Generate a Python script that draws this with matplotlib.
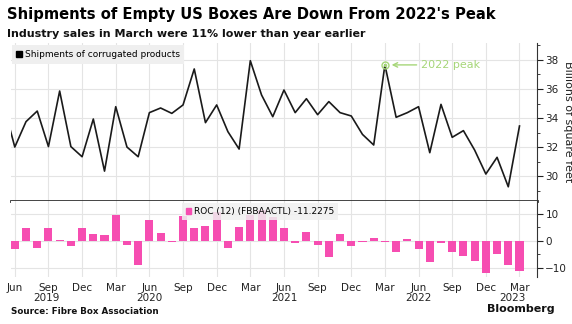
import matplotlib.pyplot as plt
from matplotlib.lines import Line2D
from matplotlib.patches import Patch
from matplotlib.ticker import MultipleLocator
from matplotlib.transforms import blended_transform_factory

# Monthly data, May 2019 .. Mar 2023 (line) and Jun 2019 .. Mar 2023 (bars)
shipments = [34.9,
             32.0, 33.75, 34.48, 32.03, 35.86, 32.03, 31.33,
             33.93, 30.34, 34.78, 32.0, 31.33, 34.37, 34.69, 34.32, 34.9, 37.38, 33.68, 34.9,
             33.06, 31.86, 37.95, 35.59, 34.09, 35.93, 34.37, 35.33, 34.23, 35.13, 34.37, 34.14,
             32.87, 32.14, 37.66, 34.05, 34.37, 34.78, 31.61, 34.94, 32.67, 33.13, 31.79, 30.14,
             31.29, 29.26, 33.45]
roc = [-3.2, 4.8, -2.8, 4.7, 0.1, -1.8, 4.8,
       2.3, 2.2, 9.3, -1.6, -8.9, 7.8, 2.9, -0.3, 9.2, 4.5, 5.3, 10.5,
       -2.5, 5.1, 9.5, 11.2, 8.8, 4.6, -0.8, 3.1, -1.6, -5.9, 2.3, -1.8,
       -0.6, 1.1, -0.4, -4.3, 0.7, -3.1, -7.8, -0.7, -4.3, -5.5, -7.3, -11.8,
       -4.9, -8.8, -11.2275]
tick_names = ["Jun", "Sep", "Dec", "Mar"]
years = ["2019", "2020", "2021", "2022", "2023"]

# index 0 = Jun 2019
line_x = list(range(-1, len(shipments) - 1))
bar_x = list(range(len(roc)))

PINK = "#f64db1"
GREEN = "#a6d678"
GRID = "#e4e4e4"
TXT = "#222222"

plt.rcParams["font.family"] = ["DejaVu Sans"]

fig = plt.figure(figsize=(5.72, 3.24), dpi=100)
ax1 = fig.add_axes([0.0192, 0.3796, 0.9196, 0.4877])
ax2 = fig.add_axes([0.0192, 0.145, 0.9196, 0.2346])

xlim = (-0.34, 46.56)
qticks = list(range(0, len(roc), 3))

# upper panel
ax1.plot(line_x, shipments, color="#1a1a1a", lw=1.2, zorder=3)
ax1.set_xlim(*xlim)
ax1.set_ylim(28.28, 39.17)
ax1.yaxis.tick_right()
ax1.yaxis.set_label_position("right")
ax1.set_yticks([30, 32, 34, 36, 38])
ax1.yaxis.set_minor_locator(MultipleLocator(1))
ax1.set_ylabel("Billions of square feet", rotation=-90, labelpad=3, fontsize=8, color=TXT,
               va="bottom")
ax1.set_xticks(qticks)
ax1.tick_params(axis="x", length=0, labelbottom=False)
ax1.tick_params(axis="y", which="major", length=4, labelsize=7.5, colors=TXT, pad=2)
ax1.tick_params(axis="y", which="minor", length=2, color=TXT)
ax1.grid(True, color=GRID, lw=0.8)
for s in ["left", "top"]:
    ax1.spines[s].set_visible(False)
ax1.spines["right"].set_color("#333333")
ax1.spines["right"].set_linewidth(0.8)
ax1.spines["bottom"].set_color("#333333")
ax1.spines["bottom"].set_linewidth(2)

peak_i = 33
ax1.plot(peak_i, shipments[peak_i + 1], "o", mfc="none", mec=GREEN, ms=5, mew=1, zorder=4)
ax1.plot(peak_i, shipments[peak_i + 1], "o", color=GREEN, ms=1.5, zorder=4)
ax1.annotate("2022 peak", xy=(peak_i + 0.6, shipments[peak_i + 1]),
             xytext=(36.2, shipments[peak_i + 1]), color=GREEN, fontsize=8,
             va="center", ha="left",
             arrowprops=dict(arrowstyle="->", color=GREEN, lw=1, shrinkA=1, shrinkB=0))

leg1 = ax1.legend(handles=[Line2D([], [], marker="s", ls="none", color="black", ms=4)],
                  labels=["Shipments of corrugated products"], loc="upper left",
                  bbox_to_anchor=(0, 0.99), fontsize=6.5, frameon=True, fancybox=False,
                  handlelength=0.6, handletextpad=0.3, borderpad=0.5, borderaxespad=0.1)
leg1.get_frame().set_facecolor("#efefef")
leg1.get_frame().set_edgecolor("none")
leg1.get_frame().set_alpha(1)

# lower panel
ax2.bar(bar_x, roc, width=0.72, color=PINK, zorder=3)
ax2.set_xlim(*xlim)
ax2.set_ylim(-13.35, 14.6)
ax2.yaxis.tick_right()
ax2.set_yticks([-10, 0, 10])
ax2.yaxis.set_minor_locator(MultipleLocator(5))
ax2.tick_params(axis="y", which="major", length=4, labelsize=7.5, colors=TXT, pad=2)
ax2.tick_params(axis="y", which="minor", length=2, color=TXT)
ax2.set_xticks(qticks)
ax2.set_xticklabels([tick_names[i % 4] for i in range(len(qticks))], fontsize=7.5, color=TXT)
ax2.tick_params(axis="x", length=0, pad=4)
ax2.grid(True, color=GRID, lw=0.8)
for s in ["left", "top", "bottom"]:
    ax2.spines[s].set_visible(False)
ax2.spines["right"].set_color("#333333")
ax2.spines["right"].set_linewidth(0.8)

leg2 = ax2.legend(handles=[Patch(color=PINK)], labels=["ROC (12) (FBBAACTL) -11.2275"],
                  loc="upper left", bbox_to_anchor=(0.325, 0.97), fontsize=6.5,
                  frameon=True, fancybox=False, handlelength=0.6, handleheight=0.6,
                  handletextpad=0.3, borderpad=0.4, borderaxespad=0)
leg2.get_frame().set_facecolor("#f0f0f0")
leg2.get_frame().set_edgecolor("none")
leg2.get_frame().set_alpha(0.85)

# year labels under the months
tr = blended_transform_factory(ax2.transData, fig.transFigure)
year_pos = [2.8, 12, 24, 36, 44.4]
for xp, yr in zip(year_pos, years):
    fig.text(xp, 0.08, yr, transform=tr, ha="center", va="center", fontsize=7.5, color=TXT)

# titles and footer
fig.text(0.012, 0.955, "Shipments of Empty US Boxes Are Down From 2022's Peak",
         fontsize=10.6, fontweight="bold", color="black", va="center")
fig.text(0.012, 0.895, "Industry sales in March were 11% lower than year earlier",
         fontsize=8, fontweight="bold", color="#111111", va="center")
fig.text(0.02, 0.04, "Source: Fibre Box Association", fontsize=6.3, fontweight="bold",
         color="#111111", va="center")
fig.text(0.97, 0.045, "Bloomberg", fontsize=8, fontweight="bold", color="#111111",
         va="center", ha="right")

fig.savefig("out.png", dpi=100)
